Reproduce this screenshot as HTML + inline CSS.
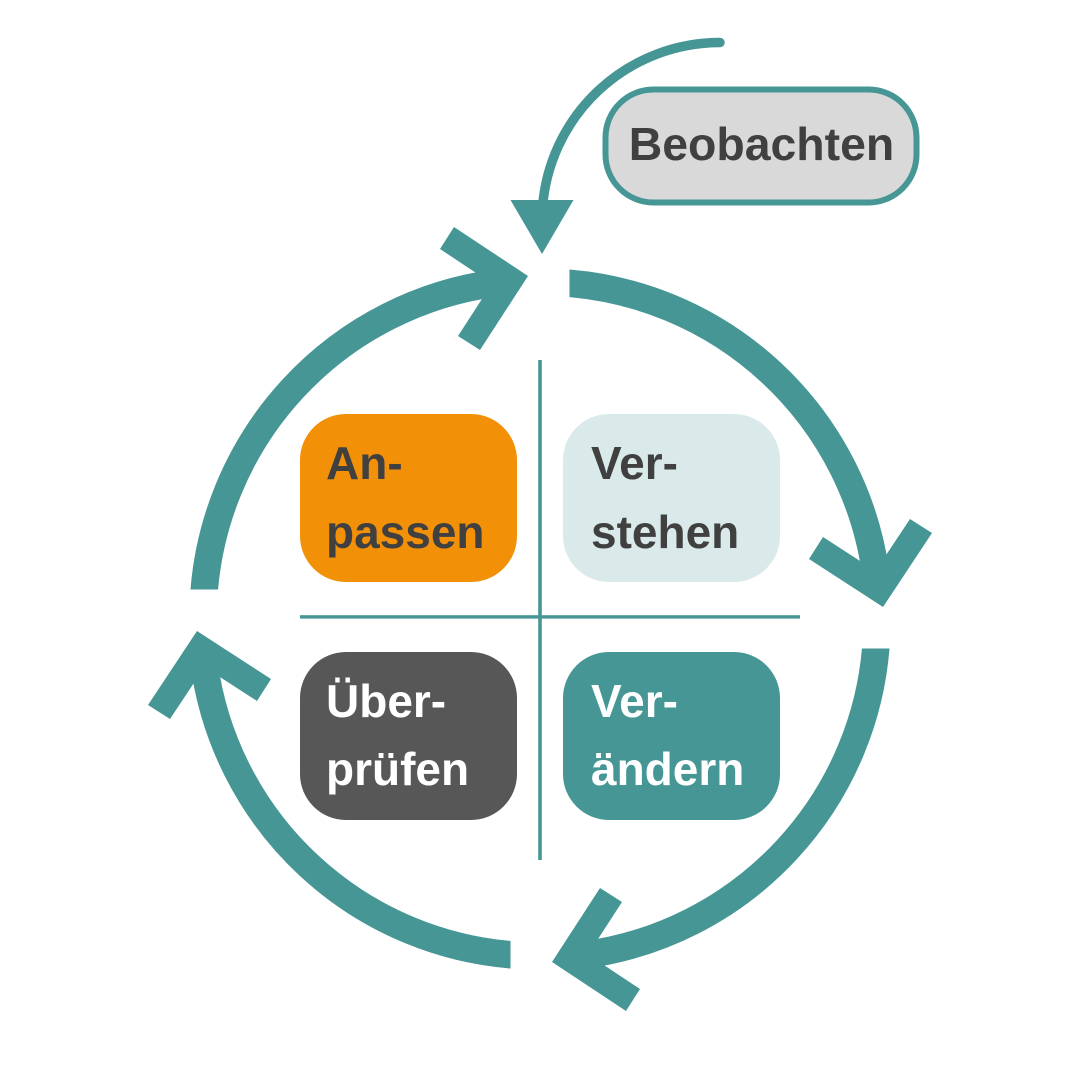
<!DOCTYPE html>
<html>
<head>
<meta charset="utf-8">
<style>
  html, body { margin:0; padding:0; background:#ffffff; }
  body { width:1080px; height:1080px; overflow:hidden; }
  svg { display:block; }
  text { font-family: "Liberation Sans", Arial, sans-serif; font-weight:bold; font-size:46px; }
</style>
</head>
<body>
<svg width="1080" height="1080" viewBox="0 0 1080 1080" xmlns="http://www.w3.org/2000/svg">
  <rect width="1080" height="1080" fill="#ffffff"/>

  <defs>
    <clipPath id="cut">
      <rect x="569.5" y="0" width="600" height="700"/>
    </clipPath>
    <g id="unit">
      <path d="M 560 282.6 A 338 338 0 0 1 876 575" fill="none" stroke="#469696" stroke-width="27.5" stroke-linecap="butt" clip-path="url(#cut)"/>
      <polygon points="823,537 875.5,571 910,519 932,533 883,607 809,559" fill="#469696"/>
    </g>
  </defs>

  <!-- circular arrows -->
  <use href="#unit"/>
  <use href="#unit" transform="rotate(90 540 619)"/>
  <use href="#unit" transform="rotate(180 540 619)"/>
  <use href="#unit" transform="rotate(270 540 619)"/>

  <!-- cross lines -->
  <rect x="538.2" y="360" width="3.6" height="500" fill="#469696"/>
  <rect x="300" y="615.2" width="500" height="3.4" fill="#469696"/>

  <!-- boxes -->
  <rect x="300" y="414" width="217" height="168" rx="46" ry="46" fill="#F29108"/>
  <rect x="563" y="414" width="217" height="168" rx="46" ry="46" fill="#DAEAEA"/>
  <rect x="300" y="652" width="217" height="168" rx="46" ry="46" fill="#575757"/>
  <rect x="563" y="652" width="217" height="168" rx="46" ry="46" fill="#469696"/>

  <!-- box labels -->
  <text x="326" y="479" fill="#404040">An-</text>
  <text x="326" y="548" fill="#404040">passen</text>
  <text x="591" y="479" fill="#404040">Ver-</text>
  <text x="591" y="548" fill="#404040">stehen</text>
  <text x="326" y="717" fill="#ffffff">Über-</text>
  <text x="326" y="785" fill="#ffffff">prüfen</text>
  <text x="591" y="717" fill="#ffffff">Ver-</text>
  <text x="591" y="785" fill="#ffffff">ändern</text>

  <!-- Beobachten arrow -->
  <path d="M 720 42.5 A 178 178 0 0 0 542.5 208" fill="none" stroke="#469696" stroke-width="9.5" stroke-linecap="round"/>
  <polygon points="510.5,200 573.5,200 542,254" fill="#469696"/>

  <!-- Beobachten box -->
  <rect x="605.5" y="89.5" width="311" height="113" rx="48" ry="48" fill="#D9D9D9" stroke="#469696" stroke-width="6"/>
  <text x="761.5" y="160" fill="#404040" text-anchor="middle" style="font-size:46.4px">Beobachten</text>
</svg>
</body>
</html>
